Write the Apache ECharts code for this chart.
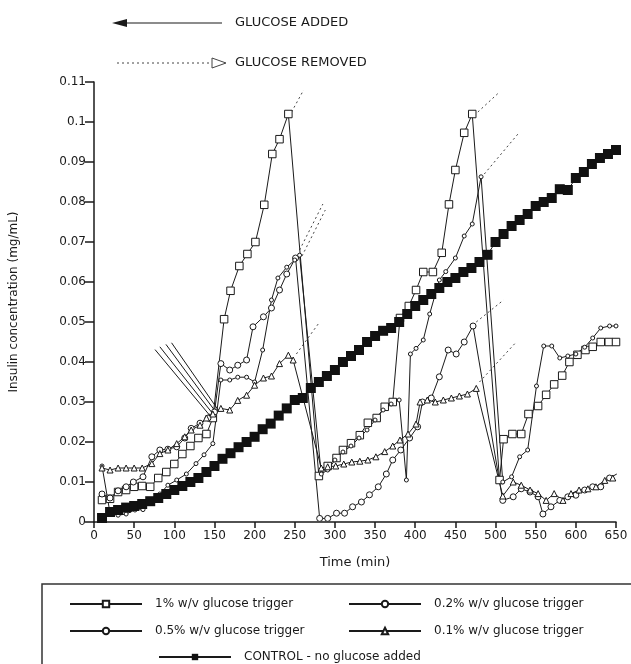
<!DOCTYPE html>
<html>
<head>
<meta charset="utf-8">
<script src="https://cdn.jsdelivr.net/npm/echarts@6/dist/echarts.min.js"></script>
<style>html,body{margin:0;padding:0;background:#fff;}#c{width:631px;height:664px;}</style>
</head>
<body>
<div id="c"></div>
<script>
// ---- data (time in min, insulin mg/mL) ----
const xTicks = [0,50,100,150,200,250,300,350,400,450,500,550,600,650];
const yTicks = [0,0.01,0.02,0.03,0.04,0.05,0.06,0.07,0.08,0.09,0.1,0.11];

const names = ['1% w/v glucose trigger','0.2% w/v glucose trigger','0.5% w/v glucose trigger','0.1% w/v glucose trigger','CONTROL - no glucose added'];

const series1pct = [[10,0.0055],[20,0.0058],[30,0.0075],[40,0.008],[50,0.0088],[60,0.009],[70,0.0088],[80,0.011],[90,0.0125],[100,0.0145],[110,0.017],[120,0.019],[130,0.021],[140,0.022],[148,0.026],[162,0.0507],[170,0.0578],[181,0.064],[191,0.067],[201,0.070],[212,0.0793],[222,0.092],[231,0.0957],[242,0.102],[280,0.0115],[291,0.014],[302,0.016],[310,0.018],[320,0.0197],[331,0.0217],[341,0.0248],[352,0.026],[362,0.0288],[372,0.030],[381,0.051],[392,0.054],[401,0.058],[410,0.0625],[422,0.0625],[433,0.0673],[442,0.0794],[450,0.088],[461,0.0973],[471,0.102],[505,0.0105],[510,0.0207],[521,0.022],[532,0.022],[541,0.027],[553,0.029],[563,0.0318],[573,0.0344],[583,0.0366],[592,0.040],[602,0.0418],[612,0.043],[621,0.0438],[631,0.045],[641,0.045],[650,0.045]];

const series02pct = [[10,0.007],[20,0.006],[30,0.0078],[40,0.0088],[49,0.010],[61,0.0113],[72,0.0163],[82,0.018],[92,0.0182],[103,0.0188],[113,0.021],[121,0.0234],[132,0.0247],[142,0.026],[150,0.0275],[158,0.0396],[169,0.038],[179,0.0392],[190,0.0405],[198,0.0488],[211,0.0513],[221,0.0535],[231,0.058],[240,0.062],[251,0.066],[281,0.0009],[291,0.0009],[302,0.0022],[312,0.0022],[322,0.0038],[333,0.005],[343,0.0068],[354,0.0088],[364,0.012],[372,0.0155],[382,0.018],[393,0.021],[403,0.0238],[409,0.030],[420,0.031],[430,0.0363],[441,0.043],[451,0.042],[461,0.045],[472,0.049],[509,0.0054],[522,0.0063],[532,0.0083],[543,0.0075],[553,0.0063],[559,0.002],[569,0.0038],[580,0.0054],[590,0.0063],[600,0.0067],[611,0.008],[621,0.0088],[631,0.0088],[642,0.011],[651,0.012]];

const series05pct = [[10,0.014],[20,0.0022],[30,0.0017],[40,0.002],[51,0.003],[61,0.0031],[72,0.0055],[82,0.007],[92,0.0092],[103,0.0105],[115,0.012],[127,0.0146],[137,0.0168],[148,0.0196],[158,0.0355],[169,0.0355],[179,0.0362],[190,0.0362],[200,0.035],[210,0.043],[221,0.0555],[229,0.061],[240,0.0637],[250,0.0655],[256,0.0667],[283,0.012],[291,0.013],[300,0.0155],[310,0.0175],[320,0.019],[330,0.021],[340,0.023],[350,0.0255],[360,0.028],[370,0.0295],[380,0.0305],[389,0.0105],[394,0.042],[401,0.0434],[410,0.0455],[418,0.052],[430,0.0605],[438,0.0626],[450,0.066],[461,0.0715],[471,0.0745],[482,0.0863],[509,0.010],[520,0.0113],[530,0.0163],[540,0.018],[551,0.034],[560,0.044],[570,0.044],[580,0.041],[590,0.0415],[600,0.042],[611,0.0437],[621,0.046],[631,0.0485],[642,0.049],[650,0.049]];

const series01pct = [[10,0.0135],[20,0.013],[30,0.0135],[40,0.0135],[50,0.0135],[60,0.0135],[72,0.0146],[82,0.0171],[92,0.018],[103,0.0196],[113,0.0213],[121,0.023],[132,0.0242],[140,0.026],[148,0.027],[158,0.0284],[169,0.028],[179,0.0304],[190,0.0317],[200,0.0342],[211,0.036],[221,0.0365],[231,0.0396],[242,0.0417],[248,0.0405],[283,0.0135],[291,0.0138],[301,0.014],[311,0.0145],[321,0.015],[331,0.0152],[341,0.0155],[351,0.0163],[362,0.0176],[372,0.019],[381,0.0205],[391,0.022],[401,0.0245],[406,0.030],[415,0.0305],[425,0.030],[435,0.0305],[445,0.031],[455,0.0315],[465,0.032],[476,0.0334],[509,0.0065],[522,0.010],[532,0.0092],[543,0.008],[553,0.0071],[563,0.0054],[573,0.0071],[584,0.0054],[594,0.0071],[604,0.008],[615,0.0083],[625,0.0088],[636,0.0104],[646,0.011]];

const seriesControl = [[10,0.001],[20,0.0025],[30,0.003],[40,0.0036],[50,0.004],[60,0.0045],[70,0.0052],[80,0.006],[90,0.007],[100,0.008],[110,0.009],[120,0.010],[130,0.011],[140,0.0125],[150,0.014],[160,0.0158],[170,0.0172],[180,0.0187],[190,0.020],[200,0.0213],[210,0.0232],[220,0.0246],[230,0.0266],[240,0.0284],[250,0.0305],[260,0.031],[270,0.0335],[280,0.035],[290,0.0365],[300,0.038],[310,0.040],[320,0.0415],[330,0.043],[340,0.045],[350,0.0465],[360,0.0478],[370,0.0485],[380,0.050],[390,0.052],[400,0.054],[410,0.0555],[420,0.057],[430,0.0585],[440,0.060],[450,0.061],[460,0.0625],[470,0.0635],[480,0.065],[490,0.0668],[500,0.070],[510,0.072],[520,0.074],[530,0.0755],[540,0.077],[550,0.079],[560,0.080],[570,0.081],[580,0.0832],[590,0.083],[600,0.086],[610,0.0875],[620,0.0895],[630,0.091],[640,0.092],[650,0.093]];

// annotation arrows (from -> to), in data units
const glucoseAdded = [[[76,0.0431],[146,0.0262]],[[82,0.0438],[149,0.0268]],[[89.6,0.0444],[152,0.0274]],[[96.6,0.0448],[155,0.0279]]];
const glucoseRemoved = [[[246,0.1025],[261,0.108]],[[256,0.068],[285,0.0795]],[[259,0.0665],[288,0.078]],[[252,0.042],[281,0.050]],[[478,0.1025],[505,0.1075]],[[486,0.087],[530,0.0975]],[[476,0.050],[510,0.0555]],[[480,0.035],[524,0.0446]]];

// ---- chart ----
const FONT = 'DejaVu Sans';
const INK = '#1a1a1a';
const chart = echarts.init(document.getElementById('c'), null, {renderer:'canvas'});

function trig(name, data, symbol, size, fill){
  return {
    name, type:'line', data, symbol, symbolSize:size, showAllSymbol:true,
    lineStyle:{color:INK, width:1},
    itemStyle:{color: fill, borderColor:INK, borderWidth:1},
    z: 3, animation:false
  };
}
const series = [
  trig(names[0], series1pct, 'rect', 7.5, '#fff'),
  trig(names[1], series02pct, 'circle', 6, '#fff'),
  trig(names[2], series05pct, 'circle', 4, '#fff'),
  trig(names[3], series01pct, 'triangle', 6, '#fff'),
  {name:names[4], type:'line', data:seriesControl, symbol:'rect', symbolSize:10, showAllSymbol:true,
   lineStyle:{color:INK, width:1}, itemStyle:{color:'#111', borderColor:'#111', borderWidth:0}, z:4, animation:false}
];
glucoseAdded.forEach(seg => series.push({type:'line', data:seg, symbol:'none', lineStyle:{color:INK,width:1}, silent:true, z:2, animation:false}));
glucoseRemoved.forEach(seg => series.push({type:'line', data:seg, symbol:'none', lineStyle:{color:'#444',width:1,type:[2,3]}, silent:true, z:2, animation:false}));

const legendBase = {orient:'horizontal', itemWidth:72, itemHeight:8, selectedMode:false,
  textStyle:{fontFamily:FONT, fontSize:12, color:INK, padding:[0,0,0,8]}};
const legends = [
  Object.assign({}, legendBase, {data:[names[0]], left:64, top:593}),
  Object.assign({}, legendBase, {data:[names[1]], left:343, top:593}),
  Object.assign({}, legendBase, {data:[names[2]], left:64, top:620}),
  Object.assign({}, legendBase, {data:[names[3]], left:343, top:620}),
  Object.assign({}, legendBase, {data:[names[4]], left:153, top:646})
];

chart.setOption({
  backgroundColor:'#fff',
  animation:false,
  grid:{left:94, right:15, top:82, bottom:142, containLabel:false, outerBoundsMode:'none'},
  legend: legends,
  xAxis:{type:'value', min:xTicks[0], max:xTicks[xTicks.length-1], interval:50,
    name:'Time (min)', nameLocation:'middle', nameGap:34,
    nameTextStyle:{fontFamily:FONT, fontSize:13, color:INK},
    axisLine:{lineStyle:{color:INK, width:1.5}},
    axisTick:{show:true, length:6, inside:false, lineStyle:{color:INK,width:1.5}},
    axisLabel:{fontFamily:FONT, fontSize:12, color:INK, margin:8},
    splitLine:{show:false}},
  yAxis:{type:'value', min:yTicks[0], max:yTicks[yTicks.length-1], interval:0.01,
    name:'Insulin concentration (mg/mL)', nameLocation:'middle', nameGap:74, nameRotate:90,
    nameTextStyle:{fontFamily:FONT, fontSize:12, color:INK},
    axisLine:{show:true, lineStyle:{color:INK, width:1.5}},
    axisTick:{show:true, length:9, inside:false, lineStyle:{color:INK,width:1.5}},
    axisLabel:{fontFamily:FONT, fontSize:12, color:INK, margin:8},
    splitLine:{show:false}},
  graphic:[
    {type:'rect', shape:{x:42, y:584, width:620, height:100}, style:{fill:'none', stroke:'#333', lineWidth:1.5}, silent:true},
    {type:'line', shape:{x1:124, y1:23, x2:222, y2:23}, style:{stroke:INK, lineWidth:1.2}},
    {type:'polygon', shape:{points:[[112,23],[127,19],[127,27]]}, style:{fill:INK}},
    {type:'text', x:235, y:23, style:{text:'GLUCOSE ADDED', font:'13px "DejaVu Sans"', fill:INK, verticalAlign:'middle'}},
    {type:'line', shape:{x1:117, y1:63, x2:210, y2:63}, style:{stroke:'#444', lineWidth:1, lineDash:[2,3]}},
    {type:'polygon', shape:{points:[[226,63],[212,58],[212,68]]}, style:{fill:'#fff', stroke:'#444', lineWidth:1}},
    {type:'text', x:235, y:63, style:{text:'GLUCOSE REMOVED', font:'13px "DejaVu Sans"', fill:INK, verticalAlign:'middle'}}
  ],
  series
});
</script>
</body>
</html>
